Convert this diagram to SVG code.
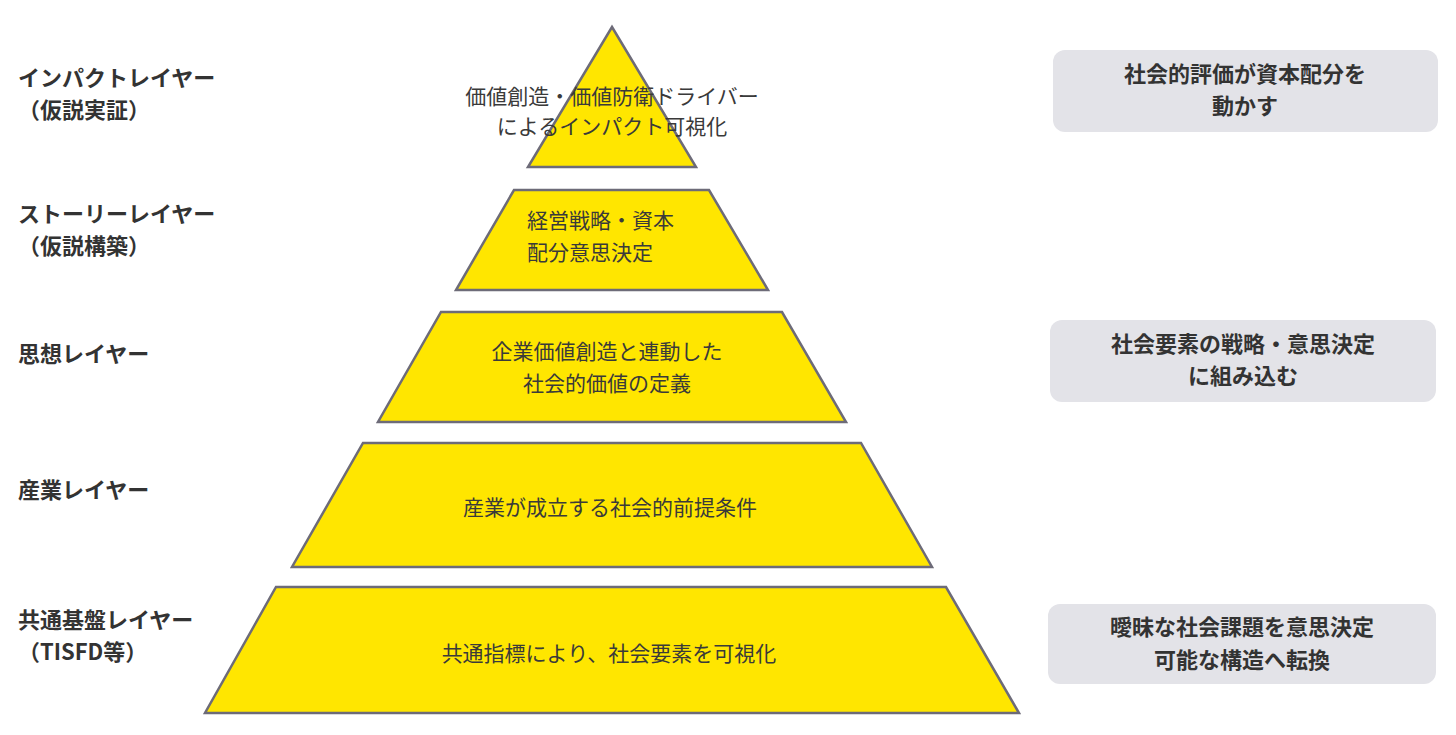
<svg xmlns="http://www.w3.org/2000/svg" width="1456" height="735" viewBox="0 0 1456 735">
<style>
.l{fill:#FFE600;stroke:#6d6b78;stroke-width:2.5}
.t{font-family:"Noto Sans CJK JP","Noto Sans",sans-serif;font-size:21px;fill:#3a3a3a;text-anchor:middle}
.h{font-family:"Noto Sans CJK JP","Noto Sans",sans-serif;font-size:22px;font-weight:bold;fill:#333}
.b{fill:#e3e3e8}
.bt{font-family:"Noto Sans CJK JP","Noto Sans",sans-serif;font-size:22px;font-weight:bold;fill:#333;text-anchor:middle}
</style>
<rect width="1456" height="735" fill="#fff"/>
<g id="layer1"><polygon class="l" points="612,27 696,167 528,167"/><text class="t" x="612" y="104">価値創造・価値防衛ドライバー</text><text class="t" x="612" y="134">によるインパクト可視化</text></g>
<g id="layer2"><polygon class="l" points="514,190 709,190 768,290 456,290"/><text class="t" x="527" y="228" text-anchor="start" style="text-anchor:start">経営戦略・資本</text><text class="t" x="527" y="260" style="text-anchor:start">配分意思決定</text></g>
<g id="layer3"><polygon class="l" points="441,312 782,312 846,422 378,422"/><text class="t" x="607" y="359">企業価値創造と連動した</text><text class="t" x="607" y="391">社会的価値の定義</text></g>
<g id="layer4"><polygon class="l" points="363,443 861,443 932,567 292,567"/><text class="t" x="610" y="515">産業が成立する社会的前提条件</text></g>
<g id="layer5"><polygon class="l" points="276,587 946,587 1019,713 205,713"/><text class="t" x="609" y="661">共通指標により、社会要素を可視化</text></g>
<g id="labels">
<text class="h" x="18" y="86">インパクトレイヤー</text><text class="h" x="18" y="118">（仮説実証）</text>
<text class="h" x="18" y="222">ストーリーレイヤー</text><text class="h" x="18" y="254">（仮説構築）</text>
<text class="h" x="18" y="362">思想レイヤー</text>
<text class="h" x="18" y="498">産業レイヤー</text>
<text class="h" x="18" y="628">共通基盤レイヤー</text><text class="h" x="18" y="660">（TISFD等）</text>
</g>
<g id="box1"><rect class="b" x="1053" y="50" width="385" height="82" rx="12"/><text class="bt" x="1245" y="82">社会的評価が資本配分を</text><text class="bt" x="1245" y="114">動かす</text></g>
<g id="box2"><rect class="b" x="1050" y="320" width="386" height="82" rx="12"/><text class="bt" x="1243" y="352">社会要素の戦略・意思決定</text><text class="bt" x="1243" y="384">に組み込む</text></g>
<g id="box3"><rect class="b" x="1048" y="604" width="388" height="80" rx="12"/><text class="bt" x="1242" y="635">曖昧な社会課題を意思決定</text><text class="bt" x="1242" y="668">可能な構造へ転換</text></g>
<g id="connectors"/>
</svg>
